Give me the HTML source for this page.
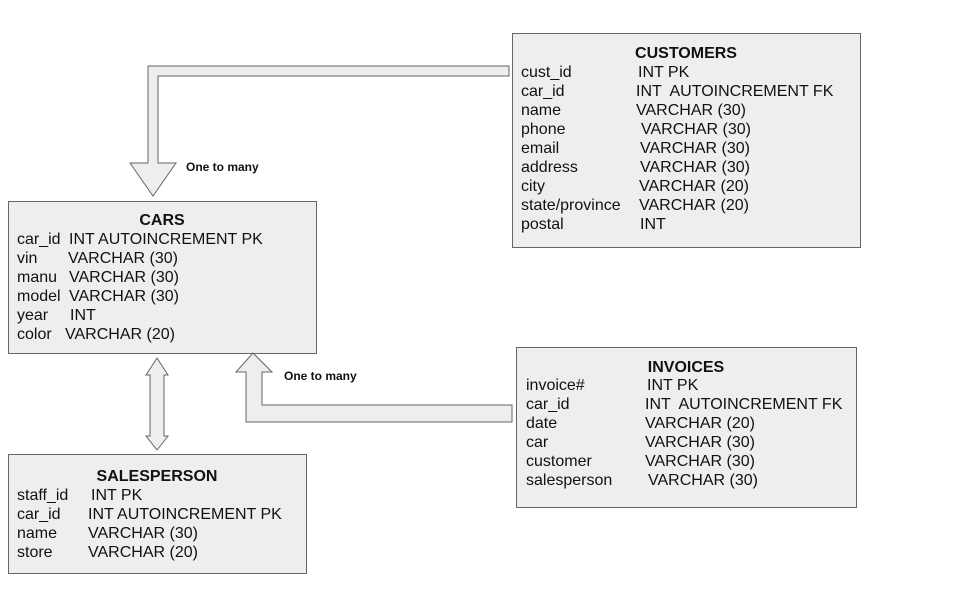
<!DOCTYPE html>
<html><head><meta charset="utf-8"><style>
html,body{margin:0;padding:0;background:#fff;}
svg{display:block;font-family:"Liberation Sans",Arial,sans-serif;}
text{font-size:16px;fill:#111;white-space:pre;}
.t{font-weight:bold;text-anchor:middle;}
.s{font-size:12px;font-weight:bold;}
</style></head><body>
<svg width="960" height="600" viewBox="0 0 960 600" xml:space="preserve">
<g fill="#eeeeee" stroke="#666" stroke-width="1">
<rect x="512.5" y="33.5" width="348" height="214"/>
<rect x="8.5" y="201.5" width="308" height="152"/>
<rect x="516.5" y="347.5" width="340" height="160"/>
<rect x="8.5" y="454.5" width="298" height="119"/>
<path d="M509,66 L148,66 L148,163 L130,163 L153,196 L176,163 L158,163 L158,76 L509,76 Z"/>
<path d="M512,405 L262,405 L262,372 L272,372 L253,353 L236,372 L246,372 L246,422 L512,422 Z"/>
<path d="M157,358 L168,375 L164,375 L164,436 L168,436 L157,450 L146,436 L150,436 L150,375 L146,375 Z"/>
</g>
<text class="s" x="186" y="171">One to many</text>
<text class="s" x="284" y="380">One to many</text>

<text class="t" x="686" y="58">CUSTOMERS</text>
<text x="521" y="77">cust_id</text><text x="638" y="77">INT PK</text>
<text x="521" y="96">car_id</text><text x="636" y="96">INT  AUTOINCREMENT FK</text>
<text x="521" y="115">name</text><text x="636" y="115">VARCHAR (30)</text>
<text x="521" y="134">phone</text><text x="641" y="134">VARCHAR (30)</text>
<text x="521" y="153">email</text><text x="640" y="153">VARCHAR (30)</text>
<text x="521" y="172">address</text><text x="640" y="172">VARCHAR (30)</text>
<text x="521" y="191">city</text><text x="639" y="191">VARCHAR (20)</text>
<text x="521" y="210">state/province</text><text x="639" y="210">VARCHAR (20)</text>
<text x="521" y="229">postal</text><text x="640" y="229">INT</text>

<text class="t" x="162" y="225">CARS</text>
<text x="17" y="244">car_id</text><text x="69" y="244">INT AUTOINCREMENT PK</text>
<text x="17" y="263">vin</text><text x="68" y="263">VARCHAR (30)</text>
<text x="17" y="282">manu</text><text x="69" y="282">VARCHAR (30)</text>
<text x="17" y="301">model</text><text x="69" y="301">VARCHAR (30)</text>
<text x="17" y="320">year</text><text x="70" y="320">INT</text>
<text x="17" y="339">color</text><text x="65" y="339">VARCHAR (20)</text>

<text class="t" x="686" y="372">INVOICES</text>
<text x="526" y="390">invoice#</text><text x="647" y="390">INT PK</text>
<text x="526" y="409">car_id</text><text x="645" y="409">INT  AUTOINCREMENT FK</text>
<text x="526" y="428">date</text><text x="645" y="428">VARCHAR (20)</text>
<text x="526" y="447">car</text><text x="645" y="447">VARCHAR (30)</text>
<text x="526" y="466">customer</text><text x="645" y="466">VARCHAR (30)</text>
<text x="526" y="485">salesperson</text><text x="648" y="485">VARCHAR (30)</text>

<text class="t" x="157" y="481">SALESPERSON</text>
<text x="17" y="500">staff_id</text><text x="91" y="500">INT PK</text>
<text x="17" y="519">car_id</text><text x="88" y="519">INT AUTOINCREMENT PK</text>
<text x="17" y="538">name</text><text x="88" y="538">VARCHAR (30)</text>
<text x="17" y="557">store</text><text x="88" y="557">VARCHAR (20)</text>
</svg>
</body></html>
